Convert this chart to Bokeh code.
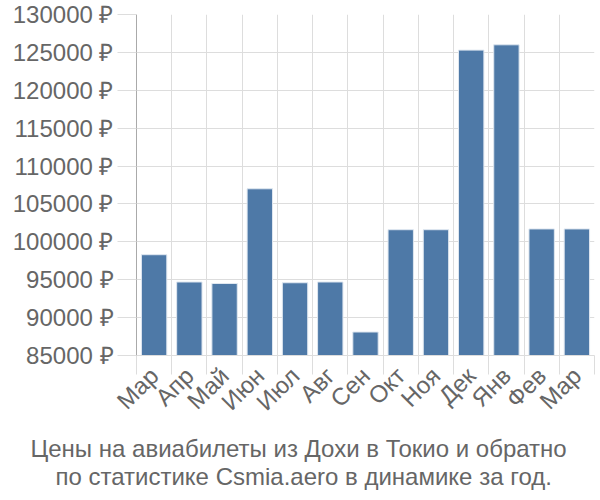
from bokeh.plotting import figure
from bokeh.embed import file_html
from bokeh.resources import INLINE
from bokeh.models import FixedTicker, PrintfTickFormatter, Range1d, Title, ColumnDataSource

months = ["Мар", "Апр", "Май", "Июн", "Июл", "Авг", "Сен", "Окт", "Ноя", "Дек", "Янв", "Фев", "Мар"]
prices = [98300, 94700, 94500, 107000, 94600, 94700, 88100, 101600, 101600, 125300, 126000, 101700, 101700]
y_ticks = [85000, 90000, 95000, 100000, 105000, 110000, 115000, 120000, 125000, 130000]
title_lines = ["Цены на авиабилеты из Дохи в Токио и обратно",
               "по статистике Csmia.aero в динамике за год."]

n = len(months)
centers = [i + 0.5 for i in range(n)]
bounds = list(range(n + 1))

FONT = "Liberation Sans"
TXT = "#666666"
GRID = "#dddddd"
FS = "24px"

p = figure(width=600, height=500, output_backend="svg", toolbar_location=None,
           x_range=Range1d(0, n), y_range=Range1d(85000, 130000),
           min_border_left=136, min_border_right=6, min_border_top=14, min_border_bottom=145)
p.outline_line_color = None

src = ColumnDataSource(dict(x=centers, top=prices))
p.vbar(x="x", top="top", bottom=85000, width=0.72, source=src,
       fill_color="#4e79a7", line_color="#dfe7f0", line_width=1)

# x axis
xa = p.xaxis[0]
xa.ticker = FixedTicker(ticks=centers, minor_ticks=bounds)
xa.major_label_overrides = {c: m for c, m in zip(centers, months)}
xa.major_tick_line_color = None
xa.minor_tick_line_color = GRID
xa.minor_tick_out = 19
xa.minor_tick_in = 0
xa.axis_line_color = GRID
xa.major_label_orientation = 0.785398
xa.major_label_text_font = FONT
xa.major_label_text_font_size = FS
xa.major_label_text_color = TXT
xa.major_label_standoff = -3

# y axis
ya = p.yaxis[0]
ya.ticker = FixedTicker(ticks=y_ticks)
ya.formatter = PrintfTickFormatter(format="%d ₽")
ya.major_tick_line_color = GRID
ya.major_tick_out = 19
ya.major_tick_in = 0
ya.minor_tick_line_color = None
ya.axis_line_color = "#aaaaaa"
ya.major_label_text_font = FONT
ya.major_label_text_font_size = FS
ya.major_label_text_color = TXT
ya.major_label_standoff = 4

p.xgrid[0].ticker = FixedTicker(ticks=bounds)
p.xgrid[0].grid_line_color = GRID
p.ygrid[0].grid_line_color = GRID

offsets = [-106, -81]
standoffs = [9, -12]
for i, line in enumerate(title_lines):
    t = Title(text=line, align="left", offset=offsets[i], text_font=FONT, text_font_size=FS,
              text_color=TXT, text_font_style="normal", standoff=standoffs[i])
    p.add_layout(t, "below")

open("out.html", "w").write(file_html(p, INLINE))
